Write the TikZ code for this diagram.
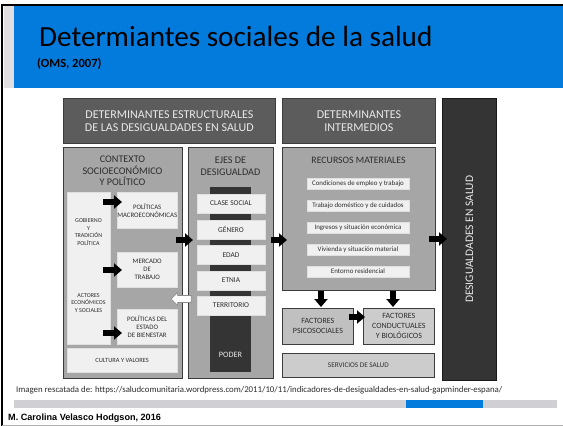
\documentclass[tikz,border=0pt]{standalone}
\usepackage{fontspec}
\setmainfont{Carlito}
\newfontfamily\arialfont{Liberation Sans}
\usetikzlibrary{arrows.meta,shapes.arrows,calc}
\definecolor{slideblue}{RGB}{2,123,220}
\definecolor{stripgray}{RGB}{224,224,224}
\definecolor{hdrgray}{RGB}{92,92,92}
\definecolor{midgray}{RGB}{166,166,166}
\definecolor{lightbox}{RGB}{240,240,240}
\definecolor{darkbox}{RGB}{52,52,52}
\definecolor{factgray}{RGB}{192,192,192}
\definecolor{servgray}{RGB}{204,204,204}
\definecolor{bargray}{RGB}{208,208,212}
\definecolor{txtgray}{RGB}{45,45,45}
\definecolor{lighttxt}{RGB}{232,232,232}
\definecolor{edgegray}{RGB}{60,60,60}
\tikzset{
  wh/.style 2 args={minimum width=#1pt, minimum height=#2pt, anchor=north west, inner sep=0pt},
  hdr/.style={fill=hdrgray, draw=edgegray, line width=0.8pt, text=lighttxt, align=center, font=\fontsize{12}{12.8}\selectfont},
  panel/.style={fill=midgray, draw=edgegray, line width=0.8pt},
  dark/.style={fill=darkbox, draw=black!90, line width=0.8pt},
  wbox/.style={fill=lightbox, draw=black!12, line width=0.4pt, text=txtgray, align=center, font=\fontsize{6.8}{8}\selectfont},
  item/.style={fill=lightbox, draw=black!12, line width=0.4pt, text=txtgray, font=\fontsize{6.9}{7.5}\selectfont, minimum width=102pt, minimum height=11.5pt, inner sep=0pt},
  ejebox/.style={fill=lightbox, draw=black!12, line width=0.4pt, text=txtgray, font=\fontsize{7.4}{8}\selectfont, minimum width=68pt, minimum height=19pt, inner sep=0pt},
  fact/.style={fill=factgray, draw=edgegray, line width=0.8pt, text=txtgray, align=center, font=\fontsize{8}{10}\selectfont},
  ttl/.style={text=txtgray, align=center, font=\fontsize{10.2}{11.6}\selectfont},
  small/.style={text=txtgray, align=center, font=\fontsize{6}{7.7}\selectfont},
  barrow/.style={draw=black, line width=6pt, -{Triangle[length=8pt, width=13pt]}},
  warrow/.style={shape=single arrow, draw=black!45, fill=white, line width=0.6pt, inner sep=3.2pt, single arrow head extend=2.8pt, minimum height=20pt, shape border rotate=180}
}
\begin{document}
\begin{tikzpicture}[x=1pt, y=-1pt]
\useasboundingbox (0,0) rectangle (563,426);
\fill[white] (0,0) rectangle (563,426);
% slide frame
\fill[stripgray] (4,6) rectangle (14,88);
\fill[slideblue] (14,6) rectangle (563,88);
\draw[black, line width=2pt] (2,426) -- (2,4.5) -- (563,4.5);
\draw[black!30, line width=0.8pt] (2,425) -- (563,425);
\node[anchor=base west, inner sep=0pt, font=\fontsize{29.2}{31}\selectfont] (title) at (39,46) {Determiantes sociales de la salud};
\node[anchor=base west, inner sep=0pt, font=\bfseries\fontsize{12.5}{14}\selectfont] (oms) at (37,67) {(OMS, 2007)};

% headers
\node[hdr, wh={212}{45}] (h1) at (63,98) {DETERMINANTES ESTRUCTURALES\\DE LAS DESIGUALDADES EN SALUD};
\node[hdr, wh={153}{45}] (h2) at (282,98) {DETERMINANTES\\INTERMEDIOS};
\node[dark, wh={54}{282}] (desig) at (442,98) {};
\node[rotate=90, text=lighttxt, font=\fontsize{11.5}{12}\selectfont] (desigt) at (desig.center) {DESIGUALDADES EN SALUD};

% contexto
\node[panel, wh={119}{231}] (ctx) at (63,147) {};
\node[ttl] (ctxt) at (122.5,171) {CONTEXTO\\SOCIOECONÓMICO\\Y POLÍTICO};
\node[wbox, wh={43}{152}] (lb) at (67,192) {};
\node[small] (gob) at (88.5,232) {GOBIERNO\\Y\\TRADICIÓN\\POLÍTICA};
\node[small] (act) at (88.5,303) {ACTORES\\ECONÓMICOS\\Y SOCIALES};
\node[wbox, wh={60}{36}] (macro) at (117,192) {POLÍTICAS\\MACROECONÓMICAS};
\node[wbox, wh={60}{35}] (merc) at (117,252) {MERCADO\\DE\\TRABAJO};
\node[wbox, wh={60}{35}] (bien) at (117,309) {POLÍTICAS DEL\\ESTADO\\DE BIENESTAR};
\node[wbox, wh={110}{24}, font=\fontsize{6.4}{7}\selectfont] (cult) at (67,348) {CULTURA Y VALORES};

% ejes
\node[panel, wh={85}{231}] (ejes) at (188,147) {};
\node[ttl] (ejest) at (230.5,166) {EJES DE\\DESIGUALDAD};
\node[fill=darkbox, wh={41}{185}] (poderbar) at (210,187) {};
\node[text=lighttxt, font=\fontsize{8.2}{9}\selectfont] (poder) at (230.5,355) {PODER};
\node[ejebox] (clase) at (231,203.5) {CLASE SOCIAL};
\node[ejebox] (genero) at (231,229.5) {GÉNERO};
\node[ejebox] (edad) at (231,255) {EDAD};
\node[ejebox] (etnia) at (231,280.5) {ETNIA};
\node[ejebox] (terr) at (231,305.5) {TERRITORIO};

% recursos
\node[panel, wh={153}{143}] (rec) at (282,147) {};
\node[ttl, font=\fontsize{9.8}{11}\selectfont] (rect) at (358.5,160) {RECURSOS MATERIALES};
\node[item] (r1) at (358,183.5) {Condiciones de empleo y trabajo};
\node[item] (r2) at (358,205.5) {Trabajo doméstico y de cuidados};
\node[item] (r3) at (358,227.5) {Ingresos y situación económica};
\node[item] (r4) at (358,249.5) {Vivienda y situación material};
\node[item] (r5) at (358,271.5) {Entorno residencial};

% factores
\node[fact, wh={71}{36}] (psi) at (282,308) {FACTORES\\PSICOSOCIALES};
\node[fact, wh={71}{36}, fill=servgray] (cond) at (363,308) {FACTORES\\CONDUCTUALES\\Y BIOLÓGICOS};
\node[fact, wh={152}{24}, fill=servgray, font=\fontsize{7.2}{8}\selectfont] (serv) at (282,353) {SERVICIOS DE SALUD};

% arrows
\draw[barrow, shorten <=-7pt, shorten >=-5pt] (lb.east |- 0,202) -- (macro.west |- 0,202);
\draw[barrow, shorten <=-7pt, shorten >=-5pt] (lb.east |- 0,270) -- (merc.west |- 0,270);
\draw[barrow, shorten <=-7pt, shorten >=-5pt] (lb.east |- 0,333) -- (bien.west |- 0,333);
\draw[barrow, shorten <=-7pt, shorten >=-5pt] (ctx.east |- 0,240) -- (ejes.west |- 0,240);
\draw[barrow, shorten <=-3pt, shorten >=-5pt] (ejes.east |- 0,240) -- (rec.west |- 0,240);
\draw[barrow, shorten <=-7pt, shorten >=-5pt] (rec.east |- 0,239) -- (desig.west |- 0,239);
\draw[barrow, shorten >=1pt] (rec.south -| 321,0) -- (psi.north -| 321,0);
\draw[barrow, shorten >=1pt] (rec.south -| 393,0) -- (cond.north -| 393,0);
\draw[barrow, shorten <=-5pt, shorten >=-2pt] (psi.east |- 0,317) -- (cond.west |- 0,317);
\node[warrow] (back) at (183,299) {};

% footer
\node[anchor=base west, inner sep=0pt, text=txtgray, font=\fontsize{8.8}{9}\selectfont] (src) at (16,392) {Imagen rescatada de: https://saludcomunitaria.wordpress.com/2011/10/11/indicadores-de-desigualdades-en-salud-gapminder-espana/};
\fill[bargray] (14,400) rectangle (557,408);
\fill[slideblue] (406,400) rectangle (483,408);
\node[anchor=base west, inner sep=0pt, font=\arialfont\bfseries\fontsize{9.1}{10}\selectfont] (author) at (8,420) {M. Carolina Velasco Hodgson, 2016};
\end{tikzpicture}
\end{document}
